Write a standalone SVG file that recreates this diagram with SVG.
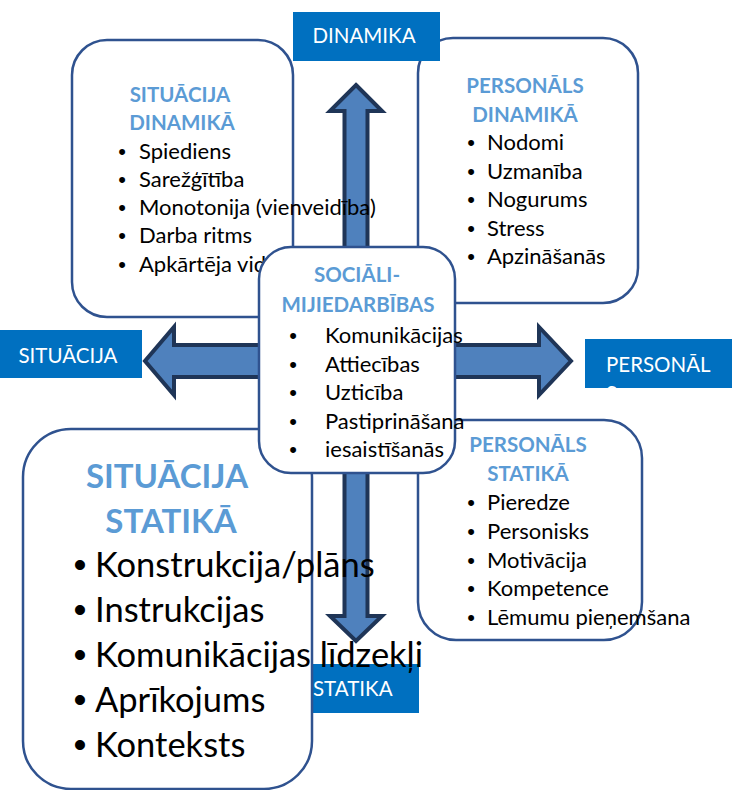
<svg xmlns="http://www.w3.org/2000/svg" width="732" height="790" viewBox="0 0 732 790">
<style>
.box{fill:#fff;stroke:#2F528F;stroke-width:2.5}
.t{font-family:Lato,"Liberation Sans",sans-serif;font-size:22px;fill:#000}
.tl{font-family:Lato,"Liberation Sans",sans-serif;font-size:20.5px;font-weight:700;fill:#5B9BD5;text-anchor:middle}
.tl.big{font-size:33px}
.t.big{font-size:34.5px}
.b{font-family:"Liberation Sans",sans-serif;text-anchor:middle}
.b.big{font-size:37px}
.lbl{fill:#0070C0}
.lt{font-family:Lato,"Liberation Sans",sans-serif;font-size:20.5px;fill:#fff}
.arrow{fill:#4F81BD;stroke:#1F3557;stroke-width:4;stroke-linejoin:miter}
</style>
<defs>
<clipPath id="clipP"><rect x="585" y="339" width="147" height="49"/></clipPath>
</defs>
<g id="connectors">
<path class="arrow" d="M356 85 L382 111 L367.5 111 L367.5 345 L539 345 L539 327 L571 361 L539 395 L539 377 L367.5 377 L367.5 616 L382 616 L356 641 L330 616 L344.5 616 L344.5 377 L174 377 L174 395 L145 361 L174 327 L174 345 L344.5 345 L344.5 111 L330 111 Z"/>
</g>
<g id="label-statika">
<rect class="lbl" x="312" y="664" width="107" height="49"/>
<text class="lt" x="313" y="696">STATIKA</text>
</g>
<g id="situacija-dinamika">
<rect class="box" x="72" y="40" width="221" height="277" rx="35"/>
<text class="tl" x="180" y="102">SITUĀCIJA</text>
<text class="tl" x="182" y="130">DINAMIKĀ</text>
<text class="t b" x="122" y="159">•</text><text class="t" x="139" y="159">Spiediens</text>
<text class="t b" x="122" y="187">•</text><text class="t" x="139" y="187">Sarežģītība</text>
<text class="t b" x="122" y="215">•</text><text class="t" x="139" y="215">Monotonija (vienveidība)</text>
<text class="t b" x="122" y="243">•</text><text class="t" x="139" y="243">Darba ritms</text>
<text class="t b" x="122" y="272">•</text><text class="t" x="139" y="272">Apkārtēja vid</text>
</g>
<g id="personals-dinamika">
<rect class="box" x="418" y="38" width="220" height="265" rx="35"/>
<text class="tl" x="525" y="93">PERSONĀLS</text>
<text class="tl" x="525" y="122">DINAMIKĀ</text>
<text class="t b" x="471" y="150">•</text><text class="t" x="487" y="150">Nodomi</text>
<text class="t b" x="471" y="178.5">•</text><text class="t" x="487" y="178.5">Uzmanība</text>
<text class="t b" x="471" y="207">•</text><text class="t" x="487" y="207">Nogurums</text>
<text class="t b" x="471" y="235.5">•</text><text class="t" x="487" y="235.5">Stress</text>
<text class="t b" x="471" y="264">•</text><text class="t" x="487" y="264">Apzināšanās</text>
</g>
<g id="situacija-statika">
<rect class="box" x="23" y="429" width="289" height="360" rx="48"/>
<text class="tl big" x="167" y="488">SITUĀCIJA</text>
<text class="tl big" x="171" y="533">STATIKĀ</text>
<text class="t big b" x="80" y="577">•</text><text class="t big" x="95" y="577">Konstrukcija/plāns</text>
<text class="t big b" x="80" y="622">•</text><text class="t big" x="95" y="622">Instrukcijas</text>
<text class="t big b" x="80" y="667">•</text><text class="t big" x="95" y="667">Komunikācijas līdzekļi</text>
<text class="t big b" x="80" y="712">•</text><text class="t big" x="95" y="712">Aprīkojums</text>
<text class="t big b" x="80" y="757">•</text><text class="t big" x="95" y="757">Konteksts</text>
</g>
<g id="personals-statika">
<rect class="box" x="418" y="420" width="224" height="220" rx="38"/>
<text class="tl" x="528" y="452">PERSONĀLS</text>
<text class="tl" x="528" y="481">STATIKĀ</text>
<text class="t b" x="471" y="510">•</text><text class="t" x="487" y="510">Pieredze</text>
<text class="t b" x="471" y="539">•</text><text class="t" x="487" y="539">Personisks</text>
<text class="t b" x="471" y="567.5">•</text><text class="t" x="487" y="567.5">Motivācija</text>
<text class="t b" x="471" y="596">•</text><text class="t" x="487" y="596">Kompetence</text>
<text class="t b" x="471" y="625">•</text><text class="t" x="487" y="625">Lēmumu pieņemšana</text>
</g>
<g id="socialas-mijiedarbibas">
<rect class="box" x="259" y="247" width="196" height="226" rx="32"/>
<text class="tl" x="357" y="282">SOCIĀLI-</text>
<text class="tl" x="358" y="312">MIJIEDARBĪBAS</text>
<text class="t b" x="293" y="343">•</text><text class="t" x="325" y="343">Komunikācijas</text>
<text class="t b" x="293" y="372">•</text><text class="t" x="325" y="372">Attiecības</text>
<text class="t b" x="293" y="400">•</text><text class="t" x="325" y="400">Uzticība</text>
<text class="t b" x="293" y="429">•</text><text class="t" x="325" y="429">Pastiprināšana</text>
<text class="t b" x="293" y="457">•</text><text class="t" x="325" y="457">iesaistīšanās</text>
</g>
<g id="label-dinamika">
<rect class="lbl" x="293" y="12" width="147" height="49"/>
<text class="lt" x="364" y="43" text-anchor="middle">DINAMIKA</text>
</g>
<g id="label-situacija">
<rect class="lbl" x="0" y="330" width="142" height="48"/>
<text class="lt" x="68" y="363" text-anchor="middle">SITUĀCIJA</text>
</g>
<g id="label-personals">
<rect class="lbl" x="585" y="339" width="147" height="49"/>
<g clip-path="url(#clipP)">
<text class="lt" x="606" y="372">PERSONĀL</text>
<text class="lt" x="606" y="400.5">S</text>
</g>
</g>
</svg>
